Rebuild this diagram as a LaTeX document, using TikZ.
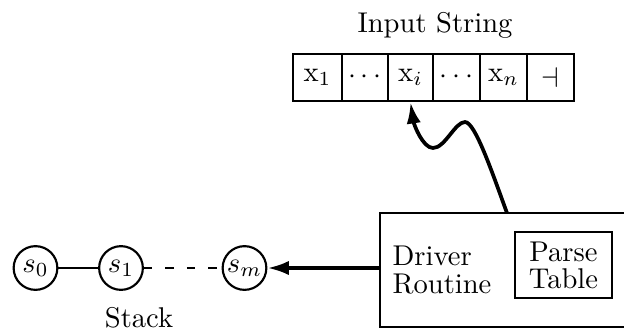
\documentclass[tikz,border=0pt]{standalone}
\usetikzlibrary{arrows.meta}
\begin{document}
\begin{tikzpicture}[x=0.35pt,y=-0.35pt,
  cell/.style={draw,line width=0.75pt,inner sep=0pt,minimum height=16.45pt},
  stnode/.style={draw,circle,line width=0.75pt,inner sep=0pt,minimum size=15.3pt},
  boxframe/.style={draw,line width=0.75pt,inner sep=0pt},
  txt/.style={inner sep=0pt,font=\fontsize{10}{9.5}\selectfont},
  heavy/.style={line width=1.3pt,-{Latex[length=7.5pt,width=5pt]}},
]
\useasboundingbox (0,0) rectangle (624,332);

% input tape
\node[txt,anchor=base] (title) at (435,32) {Input String};
\node[cell,minimum width=17.15pt] (c1) at (317.5,77.5) {$\mathrm{x}_1$};
\node[cell,minimum width=16.1pt]  (c2) at (365,77.5)   {$\cdots$};
\node[cell,minimum width=15.75pt] (xi) at (410.5,77.5) {$\mathrm{x}_i$};
\node[cell,minimum width=16.45pt] (c4) at (456.5,77.5) {$\cdots$};
\node[cell,minimum width=16.45pt] (xn) at (503.5,77.5) {$\mathrm{x}_n$};
\node[cell,minimum width=16.45pt] (ce) at (550.5,77.5) {$\dashv$};

% driver with its parse table
\node[boxframe,minimum width=91pt,minimum height=39.9pt] (box) at (510,270) {};
\node[txt,align=left,anchor=west] (driver) at (392,270) {Driver\\Routine};
\node[boxframe,txt,align=center,minimum width=34pt,minimum height=23.1pt] (table) at (563.5,265) {Parse\\Table};

% stack
\node[stnode] (s0) at (35.5,268) {$s_0$};
\node[stnode] (s1) at (121,268)  {$s_1$};
\node[stnode] (sm) at (244.5,268) {$s_m$};
\node[txt,anchor=base] (stack) at (139,327) {Stack};

% connectors
\draw[line width=0.75pt] (s0) -- (s1);
\draw[line width=0.75pt,dash pattern=on 3pt off 4.5pt] (s1) -- (sm);
\draw[heavy] (sm -| box.west) -- (sm.east);
\coordinate (up) at (507,213);
\draw[heavy] (up) .. controls (492,172) and (475,122) .. (465,122)
  .. controls (455,122) and (445,148) .. (433,148)
  .. controls (423,148) and (414,125) .. (xi.south);
\end{tikzpicture}
\end{document}
